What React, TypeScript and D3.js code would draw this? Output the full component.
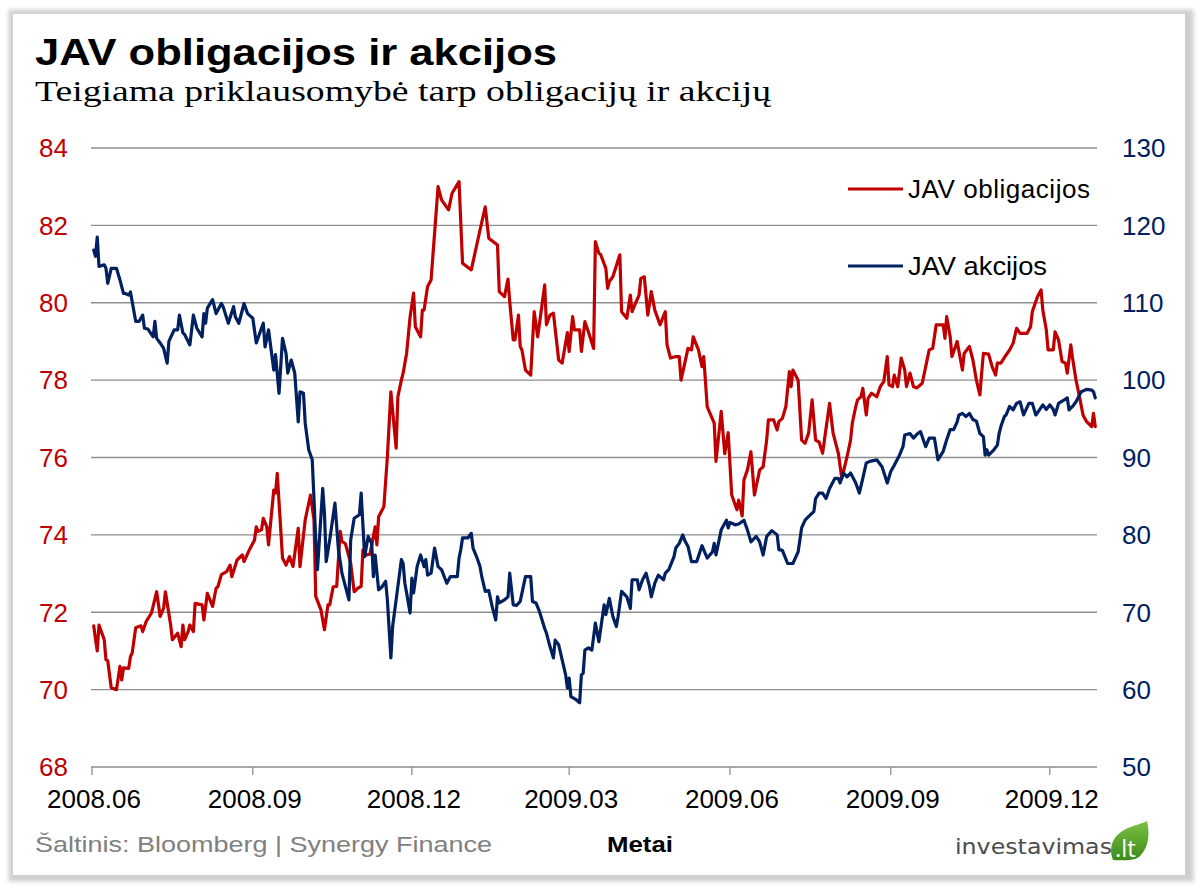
import React from "react";
import * as d3 from "d3";

type Pt = [string, number];

// JAV obligacijos (left axis)
const bondData: Pt[] = [
["2008-06-02",71.65],["2008-06-03",71.3],["2008-06-04",71.0],["2008-06-05",71.67],["2008-06-08",71.29],["2008-06-09",70.77],["2008-06-10",70.75],["2008-06-12",70.05],["2008-06-15",70.0],["2008-06-17",70.6],["2008-06-18",70.25],["2008-06-19",70.56],["2008-06-22",70.55],["2008-06-23",70.85],["2008-06-24",70.95],["2008-06-26",71.6],["2008-06-29",71.65],["2008-06-30",71.5],
["2008-07-02",71.76],["2008-07-05",71.98],["2008-07-08",72.53],["2008-07-10",71.89],["2008-07-12",72.11],["2008-07-13",72.53],["2008-07-16",71.67],["2008-07-17",71.29],["2008-07-20",71.46],["2008-07-22",71.11],["2008-07-23",71.67],["2008-07-24",71.29],["2008-07-26",71.5],["2008-07-27",71.67],["2008-07-29",71.5],["2008-07-30",72.23],
["2008-08-03",72.19],["2008-08-04",71.8],["2008-08-06",72.49],["2008-08-09",72.15],["2008-08-11",72.62],["2008-08-12",72.66],["2008-08-14",72.97],["2008-08-17",73.05],["2008-08-19",73.22],["2008-08-20",72.92],["2008-08-23",73.35],["2008-08-26",73.48],["2008-08-27",73.31],["2008-08-30",73.61],
["2008-09-02",73.87],["2008-09-03",74.21],["2008-09-04",74.09],["2008-09-06",74.13],["2008-09-07",74.43],["2008-09-09",74.21],["2008-09-10",73.74],["2008-09-13",75.16],["2008-09-14",75.08],["2008-09-15",75.59],["2008-09-18",73.4],["2008-09-20",73.22],["2008-09-22",73.44],["2008-09-24",73.18],["2008-09-27",74.17],["2008-09-28",73.18],
["2008-10-01",74.39],["2008-10-04",75.03],["2008-10-06",74.39],["2008-10-07",72.41],["2008-10-10",72.06],["2008-10-12",71.55],["2008-10-14",72.19],["2008-10-15",72.19],["2008-10-17",72.66],["2008-10-19",72.67],["2008-10-21",74.09],["2008-10-22",73.83],["2008-10-24",73.77],["2008-10-27",73.27],["2008-10-29",72.53],["2008-10-31",72.62],
["2008-11-02",72.67],["2008-11-03",73.61],["2008-11-05",73.48],["2008-11-07",73.5],["2008-11-09",73.96],["2008-11-10",74.21],["2008-11-11",73.74],["2008-11-12",74.47],["2008-11-15",74.73],["2008-11-17",76.02],["2008-11-19",77.7],["2008-11-22",76.24],["2008-11-23",77.57],["2008-11-25",78.0],["2008-11-26",78.18],["2008-11-28",78.69],["2008-11-30",79.64],
["2008-12-02",80.25],["2008-12-03",79.38],["2008-12-06",79.12],["2008-12-07",79.81],["2008-12-08",79.81],["2008-12-10",80.42],["2008-12-12",80.59],["2008-12-16",83.0],["2008-12-18",82.66],["2008-12-22",82.4],["2008-12-24",82.83],["2008-12-28",83.13],["2008-12-30",81.02],
["2009-01-04",80.85],["2009-01-09",81.88],["2009-01-12",82.48],["2009-01-14",81.67],["2009-01-19",81.49],["2009-01-20",80.29],["2009-01-23",80.16],["2009-01-25",80.61],["2009-01-26",80.03],["2009-01-28",79.04],["2009-01-29",79.04],["2009-01-31",79.68],
["2009-02-01",78.87],["2009-02-02",78.78],["2009-02-04",78.26],["2009-02-07",78.13],["2009-02-09",79.77],["2009-02-11",79.12],["2009-02-15",80.46],["2009-02-16",79.43],["2009-02-18",79.68],["2009-02-20",79.73],["2009-02-23",78.52],["2009-02-25",78.44],["2009-02-28",79.23],
["2009-03-01",78.74],["2009-03-03",79.64],["2009-03-04",79.3],["2009-03-07",79.3],["2009-03-08",78.74],["2009-03-10",79.51],["2009-03-12",79.25],["2009-03-15",78.82],["2009-03-16",81.58],["2009-03-18",81.28],["2009-03-19",81.25],["2009-03-22",80.89],["2009-03-23",80.37],["2009-03-24",80.55],["2009-03-26",80.67],["2009-03-30",81.24],["2009-03-31",79.77],
["2009-04-03",79.6],["2009-04-05",80.2],["2009-04-06",79.77],["2009-04-08",79.99],["2009-04-10",80.2],["2009-04-11",80.63],["2009-04-13",80.67],["2009-04-15",79.68],["2009-04-17",80.29],["2009-04-19",79.81],["2009-04-22",79.43],["2009-04-25",79.77],["2009-04-26",78.91],["2009-04-28",78.57],
["2009-05-01",78.61],["2009-05-03",78.61],["2009-05-04",78.0],["2009-05-08",78.82],["2009-05-10",78.78],["2009-05-11",79.12],["2009-05-14",78.78],["2009-05-16",78.35],["2009-05-17",78.61],["2009-05-19",77.31],["2009-05-23",76.89],["2009-05-24",75.9],["2009-05-27",77.19],["2009-05-29",76.1],["2009-05-31",76.64],
["2009-06-02",75.03],["2009-06-05",74.65],["2009-06-06",74.9],["2009-06-08",74.49],["2009-06-09",75.42],["2009-06-11",75.68],["2009-06-13",76.15],["2009-06-15",75.03],["2009-06-18",75.68],["2009-06-20",75.76],["2009-06-22",76.45],["2009-06-23",76.97],["2009-06-26",76.97],["2009-06-28",76.71],["2009-06-29",76.93],
["2009-07-01",77.01],["2009-07-03",77.32],["2009-07-05",78.22],["2009-07-06",77.83],["2009-07-07",78.26],["2009-07-10",78.0],["2009-07-12",76.45],["2009-07-14",76.37],["2009-07-16",76.63],["2009-07-18",77.49],["2009-07-20",76.45],["2009-07-22",76.4],["2009-07-24",76.11],["2009-07-28",77.4],["2009-07-30",76.63],
["2009-08-02",76.11],["2009-08-04",75.46],["2009-08-07",76.02],["2009-08-09",76.45],["2009-08-10",76.89],["2009-08-12",77.32],["2009-08-13",77.49],["2009-08-15",77.57],["2009-08-16",77.79],["2009-08-18",77.1],["2009-08-19",77.53],["2009-08-21",77.66],["2009-08-24",77.57],["2009-08-26",77.83],["2009-08-28",77.96],["2009-08-30",78.61],["2009-08-31",77.88],
["2009-09-02",77.83],["2009-09-03",78.13],["2009-09-05",77.83],["2009-09-07",78.57],["2009-09-09",78.26],["2009-09-10",77.83],["2009-09-12",78.18],["2009-09-14",77.83],["2009-09-16",77.8],["2009-09-19",77.92],["2009-09-21",78.35],["2009-09-23",78.78],["2009-09-25",78.82],["2009-09-27",79.43],
["2009-10-01",79.43],["2009-10-02",79.08],["2009-10-03",79.64],["2009-10-05",79.12],["2009-10-06",78.61],["2009-10-09",79.0],["2009-10-12",78.26],["2009-10-13",78.69],["2009-10-16",78.87],["2009-10-18",78.52],["2009-10-20",78.0],["2009-10-22",77.62],["2009-10-23",78.18],["2009-10-24",78.69],["2009-10-27",78.67],["2009-10-29",78.35],["2009-10-31",78.13],
["2009-11-01",78.44],["2009-11-03",78.44],["2009-11-06",78.65],["2009-11-08",78.78],["2009-11-10",78.95],["2009-11-12",79.34],["2009-11-14",79.21],["2009-11-18",79.21],["2009-11-20",79.38],["2009-11-21",79.77],["2009-11-24",80.16],["2009-11-26",80.33],["2009-11-27",79.81],["2009-11-29",79.3],["2009-11-30",78.78],
["2009-12-03",78.78],["2009-12-04",79.25],["2009-12-06",79.04],["2009-12-08",78.48],["2009-12-10",78.44],["2009-12-11",78.18],["2009-12-13",78.91],["2009-12-14",78.57],["2009-12-16",78.0],["2009-12-18",77.57],["2009-12-20",77.1],["2009-12-22",76.93],["2009-12-25",76.8],["2009-12-26",77.14],["2009-12-27",76.8]
];

// JAV akcijos (right axis)
const stockData: Pt[] = [
["2008-06-02",116.8],["2008-06-03",116.0],["2008-06-04",118.5],["2008-06-05",114.7],["2008-06-08",114.9],["2008-06-09",114.45],["2008-06-10",112.5],["2008-06-12",114.45],["2008-06-15",114.45],["2008-06-17",112.95],["2008-06-19",111.2],["2008-06-20",111.2],["2008-06-22",111.0],["2008-06-23",111.4],["2008-06-26",107.6],["2008-06-28",107.6],["2008-06-30",108.4],
["2008-07-01",106.7],["2008-07-03",106.6],["2008-07-06",105.6],["2008-07-07",107.6],["2008-07-08",105.4],["2008-07-10",104.8],["2008-07-12",104.1],["2008-07-14",102.2],["2008-07-15",105.0],["2008-07-18",106.5],["2008-07-20",106.5],["2008-07-21",108.4],["2008-07-23",106.1],["2008-07-24",105.9],["2008-07-27",104.55],["2008-07-29",108.4],["2008-07-31",106.7],
["2008-08-03",105.6],["2008-08-04",108.6],["2008-08-05",107.35],["2008-08-06",109.3],["2008-08-09",110.4],["2008-08-11",108.6],["2008-08-14",109.9],["2008-08-15",109.5],["2008-08-18",107.35],["2008-08-21",109.5],["2008-08-22",108.2],["2008-08-24",107.35],["2008-08-27",109.9],["2008-08-29",108.6],
["2008-09-01",108.0],["2008-09-03",104.8],["2008-09-05",106.1],["2008-09-07",107.35],["2008-09-08",104.3],["2008-09-10",106.5],["2008-09-13",101.3],["2008-09-14",103.3],["2008-09-16",98.3],["2008-09-18",105.4],["2008-09-20",103.5],["2008-09-21",100.9],["2008-09-23",102.6],["2008-09-25",100.9],["2008-09-27",94.6],["2008-09-28",98.5],["2008-09-30",98.3],
["2008-10-01",94.4],["2008-10-03",91.0],["2008-10-05",89.7],["2008-10-06",84.7],["2008-10-07",79.35],["2008-10-08",75.5],["2008-10-11",86.0],["2008-10-12",82.8],["2008-10-13",76.55],["2008-10-15",79.35],["2008-10-18",84.1],["2008-10-20",78.1],["2008-10-22",75.05],["2008-10-24",73.3],["2008-10-26",71.6],["2008-10-27",79.35],["2008-10-29",82.15],
["2008-11-01",82.6],["2008-11-02",85.4],["2008-11-04",77.2],["2008-11-06",79.8],["2008-11-08",78.9],["2008-11-09",74.6],["2008-11-10",77.4],["2008-11-12",72.9],["2008-11-14",73.3],["2008-11-16",74.0],["2008-11-17",71.6],["2008-11-19",64.1],["2008-11-20",68.15],["2008-11-22",71.6],["2008-11-25",76.8],["2008-11-26",76.3],["2008-11-27",73.75],["2008-11-28",72.5],["2008-11-30",69.9],
["2008-12-01",74.4],["2008-12-02",72.5],["2008-12-04",75.9],["2008-12-06",77.4],["2008-12-08",75.9],["2008-12-09",76.8],["2008-12-10",74.8],["2008-12-12",75.05],["2008-12-14",78.3],["2008-12-16",75.9],["2008-12-18",75.5],["2008-12-21",73.75],["2008-12-23",74.6],["2008-12-27",74.6],["2008-12-28",77.0],["2008-12-29",78.1],["2008-12-30",79.6],
["2009-01-02",79.6],["2009-01-04",80.2],["2009-01-05",78.3],["2009-01-07",77.2],["2009-01-09",75.9],["2009-01-10",74.6],["2009-01-12",72.7],["2009-01-14",72.8],["2009-01-16",70.7],["2009-01-18",69.0],["2009-01-19",72.0],["2009-01-20",71.2],["2009-01-23",71.6],["2009-01-25",72.0],["2009-01-26",75.05],["2009-01-28",70.95],["2009-01-30",70.9],
["2009-02-01",71.4],["2009-02-04",74.6],["2009-02-07",74.6],["2009-02-08",71.4],["2009-02-10",71.2],["2009-02-12",70.1],["2009-02-15",67.9],["2009-02-16",67.3],["2009-02-18",65.6],["2009-02-20",64.1],["2009-02-21",66.4],["2009-02-23",65.8],["2009-02-25",63.85],["2009-02-27",61.9],["2009-02-28",60.2],
["2009-03-01",61.5],["2009-03-02",59.1],["2009-03-05",58.7],["2009-03-07",58.3],["2009-03-08",61.9],["2009-03-09",62.1],["2009-03-10",65.1],["2009-03-12",65.4],["2009-03-14",65.1],["2009-03-16",68.6],["2009-03-18",66.2],["2009-03-21",70.95],["2009-03-22",69.7],["2009-03-24",71.8],["2009-03-26",69.45],["2009-03-28",68.15],["2009-03-29",69.45],["2009-03-31",72.7],
["2009-04-03",72.0],["2009-04-05",70.5],["2009-04-06",74.2],["2009-04-09",74.2],["2009-04-10",72.9],["2009-04-12",74.2],["2009-04-14",75.05],["2009-04-16",73.3],["2009-04-17",72.0],["2009-04-19",73.75],["2009-04-21",74.8],["2009-04-24",74.2],["2009-04-25",75.05],["2009-04-27",75.5],["2009-04-30",77.2],
["2009-05-01",78.3],["2009-05-03",78.9],["2009-05-05",80.0],["2009-05-06",79.35],["2009-05-08",78.5],["2009-05-10",76.55],["2009-05-13",76.55],["2009-05-16",78.6],["2009-05-19",77.0],["2009-05-22",77.8],["2009-05-23",78.9],["2009-05-24",77.4],["2009-05-27",80.65],["2009-05-30",81.9],["2009-05-31",80.9],
["2009-06-01",81.6],["2009-06-04",81.3],["2009-06-06",81.4],["2009-06-09",81.9],["2009-06-11",80.65],["2009-06-13",79.1],["2009-06-16",79.8],["2009-06-18",79.1],["2009-06-20",77.4],["2009-06-22",79.8],["2009-06-25",80.55],["2009-06-28",80.0],["2009-06-29",78.1],
["2009-07-01",78.0],["2009-07-04",76.3],["2009-07-07",76.3],["2009-07-10",77.8],["2009-07-12",80.9],["2009-07-14",81.9],["2009-07-17",82.6],["2009-07-19",83.0],["2009-07-20",84.7],["2009-07-22",85.4],["2009-07-24",85.4],["2009-07-26",84.7],["2009-07-28",86.0],["2009-07-31",87.3],
["2009-08-02",87.3],["2009-08-03",86.7],["2009-08-05",88.0],["2009-08-07",87.5],["2009-08-09",88.0],["2009-08-12",86.7],["2009-08-14",85.4],["2009-08-16",87.3],["2009-08-18",89.3],["2009-08-20",89.5],["2009-08-24",89.7],["2009-08-27",88.8],["2009-08-30",86.7],
["2009-09-01",88.2],["2009-09-03",89.0],["2009-09-06",90.3],["2009-09-08",91.4],["2009-09-09",92.9],["2009-09-12",93.1],["2009-09-14",92.5],["2009-09-16",93.0],["2009-09-18",93.35],["2009-09-21",91.4],["2009-09-23",92.5],["2009-09-26",92.5],["2009-09-28",89.7],
["2009-10-01",90.8],["2009-10-03",92.3],["2009-10-05",93.6],["2009-10-07",93.6],["2009-10-09",94.6],["2009-10-10",95.5],["2009-10-12",95.7],["2009-10-14",95.3],["2009-10-16",95.7],["2009-10-18",94.9],["2009-10-20",94.7],["2009-10-22",93.1],["2009-10-24",92.7],["2009-10-25",90.3],["2009-10-26",91.0],["2009-10-27",90.3],["2009-10-30",91.0],
["2009-11-01",91.6],["2009-11-02",93.1],["2009-11-03",94.0],["2009-11-05",95.3],["2009-11-06",95.5],["2009-11-08",96.6],["2009-11-10",96.15],["2009-11-12",97.0],["2009-11-14",97.2],["2009-11-16",95.5],["2009-11-19",97.0],["2009-11-21",97.0],["2009-11-23",95.5],["2009-11-24",95.8],["2009-11-27",96.8],["2009-11-29",96.2],
["2009-12-01",96.8],["2009-12-03",96.2],["2009-12-04",95.5],["2009-12-06",97.0],["2009-12-09",97.4],["2009-12-11",97.7],["2009-12-12",96.15],["2009-12-14",96.6],["2009-12-16",97.2],["2009-12-19",98.5],["2009-12-22",98.8],["2009-12-25",98.7],["2009-12-26",98.5],["2009-12-27",97.7]
];

const leftTicks = [68, 70, 72, 74, 76, 78, 80, 82, 84];
const rightTicks = [50, 60, 70, 80, 90, 100, 110, 120, 130];
const xTickDates = ["2008-06-01", "2008-09-01", "2008-12-01", "2009-03-01", "2009-06-01", "2009-09-01", "2009-12-01"];
const xTickLabels = ["2008.06", "2008.09", "2008.12", "2009.03", "2009.06", "2009.09", "2009.12"];
const xDomain = ["2008-06-01", "2009-12-28"];
const seriesNames = ["JAV obligacijos", "JAV akcijos"];

const RED = "#C00000";
const NAVY = "#002060";
const SANS = "'Liberation Sans', Arial, sans-serif";
const SERIF = "'Liberation Serif', 'Times New Roman', serif";

export default function App() {
  const parse = d3.utcParse("%Y-%m-%d");
  const x = d3.scaleUtc().domain(xDomain.map((d) => parse(d) as Date)).range([92, 1097]);
  const yL = d3.scaleLinear().domain([68, 84]).range([767, 148]);
  const yR = d3.scaleLinear().domain([50, 130]).range([767, 148]);
  const lineL = d3.line<Pt>().x((d) => x(parse(d[0]) as Date)).y((d) => yL(d[1]));
  const lineR = d3.line<Pt>().x((d) => x(parse(d[0]) as Date)).y((d) => yR(d[1]));
  const x0 = 91, x1 = 1097;

  return (
    <svg width={1200} height={890} style={{ position: "absolute", left: 0, top: 0, background: "#fff" }}>
      <defs>
        <filter id="sh" x="-5%" y="-5%" width="110%" height="110%">
          <feGaussianBlur stdDeviation="2.2" />
        </filter>
        <linearGradient id="leaf" x1="0" y1="0" x2="0" y2="1">
          <stop offset="0" stopColor="#7cc043" />
          <stop offset="1" stopColor="#3b8c17" />
        </linearGradient>
      </defs>
      <rect x={0} y={0} width={1200} height={890} fill="#fff" />
      <rect x={8.5} y={9.5} width={1185} height={872} fill="#cfcfcf" filter="url(#sh)" />
      <rect x={13} y={14} width={1172} height={861} fill="#fff" />

      {/* title */}
      <text x={35} y={65} fontFamily={SANS} fontWeight="bold" fontSize={37} textLength={522} lengthAdjust="spacingAndGlyphs" fill="#000">
        JAV obligacijos ir akcijos
      </text>
      <text x={35} y={101} fontFamily={SERIF} fontSize={29} textLength={736} lengthAdjust="spacingAndGlyphs" fill="#000">
        Teigiama priklausomybė tarp obligacijų ir akcijų
      </text>

      {/* gridlines */}
      {leftTicks.map((t) => (
        <line key={"g" + t} x1={x0} x2={x1} y1={yL(t)} y2={yL(t)} stroke="#8e8e8e" strokeWidth={1.3} />
      ))}
      {/* x ticks */}
      {xTickDates.map((d) => {
        const xx = x(parse(d) as Date);
        return <line key={"t" + d} x1={xx} x2={xx} y1={767} y2={775} stroke="#8e8e8e" strokeWidth={1.3} />;
      })}
      {xTickDates.map((d, i) => (
        <text key={"l" + d} x={x(parse(d) as Date) + 2} y={808} textAnchor="middle" fontFamily={SANS} fontSize={26} fill="#000">
          {xTickLabels[i]}
        </text>
      ))}
      {leftTicks.map((t) => (
        <text key={"lt" + t} x={68} y={yL(t)} dy="0.36em" textAnchor="end" fontFamily={SANS} fontSize={26} fill={RED}>
          {t}
        </text>
      ))}
      {rightTicks.map((t) => (
        <text key={"rt" + t} x={1122} y={yR(t)} dy="0.36em" textAnchor="start" fontFamily={SANS} fontSize={26} fill={NAVY}>
          {t}
        </text>
      ))}

      {/* series */}
      <path d={lineL(bondData) || ""} fill="none" stroke={RED} strokeWidth={3.2} strokeLinejoin="round" strokeLinecap="round" />
      <path d={lineR(stockData) || ""} fill="none" stroke={NAVY} strokeWidth={3.2} strokeLinejoin="round" strokeLinecap="round" />

      {/* legend */}
      <line x1={848} x2={903} y1={189} y2={189} stroke={RED} strokeWidth={3.2} />
      <text x={908} y={198} fontFamily={SANS} fontSize={26} textLength={182} lengthAdjust="spacing" fill="#000">
        {seriesNames[0]}
      </text>
      <line x1={848} x2={903} y1={266} y2={266} stroke={NAVY} strokeWidth={3.2} />
      <text x={908} y={275} fontFamily={SANS} fontSize={26} textLength={139} lengthAdjust="spacingAndGlyphs" fill="#000">
        {seriesNames[1]}
      </text>

      {/* footer */}
      <text x={35} y={852} fontFamily={SANS} fontSize={22} textLength={457} lengthAdjust="spacingAndGlyphs" fill="#808080">
        Šaltinis: Bloomberg | Synergy Finance
      </text>
      <text x={607} y={852} fontFamily={SANS} fontWeight="bold" fontSize={22} textLength={66} lengthAdjust="spacingAndGlyphs" fill="#000">
        Metai
      </text>

      {/* logo */}
      <text x={955} y={854} fontFamily="'DejaVu Sans', sans-serif" fontSize={22} textLength={157} lengthAdjust="spacingAndGlyphs" fill="#4d4d4d">
        investavimas
      </text>
      <path
        d="M1113,860 C1109,850 1111,839 1121,832 C1129,826 1139,825 1147,821 C1150,833 1149,847 1140,856 C1136,860 1129,861 1113,860 Z"
        fill="url(#leaf)"
      />
      <text x={1115} y={857} fontFamily="'Open Sans', sans-serif" fontSize={24} fill="#fff">
        .lt
      </text>
    </svg>
  );
}
